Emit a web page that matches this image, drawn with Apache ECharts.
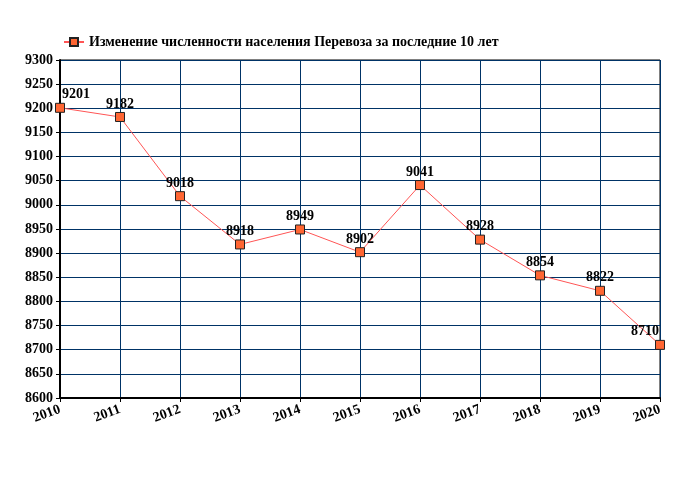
<!DOCTYPE html>
<html><head><meta charset="utf-8">
<script src="https://cdn.jsdelivr.net/npm/echarts@6/dist/echarts.min.js"></script>
<style>html,body{margin:0;padding:0;background:#fff}#c{width:680px;height:500px}</style>
</head><body><div id="c"></div>
<script>
var years = ['2010','2011','2012','2013','2014','2015','2016','2017','2018','2019','2020'];
var population = [9201, 9182, 9018, 8918, 8949, 8902, 9041, 8928, 8854, 8822, 8710];
var seriesName = 'Изменение численности населения Перевоза за последние 10 лет';
var font = '"Liberation Serif", "Times New Roman", serif';
var data = population.map(function(v, i){
  var d = {value: v};
  if (i === 0) d.label = {offset: [16, 0]};
  if (i === population.length - 1) d.label = {offset: [-15, 0]};
  return d;
});
var chart = echarts.init(document.getElementById('c'));
chart.setOption({
  animation: false,
  grid: {left: 60, right: 20, top: 60, bottom: 102, show: true, borderColor: '#000', borderWidth: 1, backgroundColor: 'transparent'},
  legend: {
    left: 58, top: 30, itemWidth: 20, itemHeight: 10,
    textStyle: {fontFamily: font, fontWeight: 'bold', fontSize: 14, color: '#000'},
    data: [seriesName]
  },
  xAxis: {
    type: 'category', data: years, boundaryGap: false,
    axisLine: {lineStyle: {color: '#000', width: 2}},
    axisTick: {show: true, length: 4, lineStyle: {color: '#000'}},
    axisLabel: {rotate: 20, margin: 11, fontFamily: font, fontWeight: 'bold', fontSize: 14, color: '#000'},
    splitLine: {show: true, lineStyle: {color: '#003366', width: 1}}
  },
  yAxis: {
    type: 'value', min: 8600, max: 9300, interval: 50,
    axisLine: {show: true, lineStyle: {color: '#000', width: 2}},
    axisTick: {show: true, length: 4, lineStyle: {color: '#000'}},
    axisLabel: {margin: 7, formatter: function(v){ return String(v); }, fontFamily: font, fontWeight: 'bold', fontSize: 14, color: '#000'},
    splitLine: {show: true, lineStyle: {color: '#003366', width: 1}}
  },
  series: [{
    name: seriesName, type: 'line', data: data,
    symbol: 'rect', symbolSize: 9, clip: false,
    lineStyle: {color: '#ff5555', width: 1},
    itemStyle: {color: '#ff6633', borderColor: '#222', borderWidth: 1},
    label: {show: true, position: 'top', distance: 1, fontFamily: font, fontWeight: 'bold', fontSize: 14, color: '#000'}
  }]
});
</script></body></html>
